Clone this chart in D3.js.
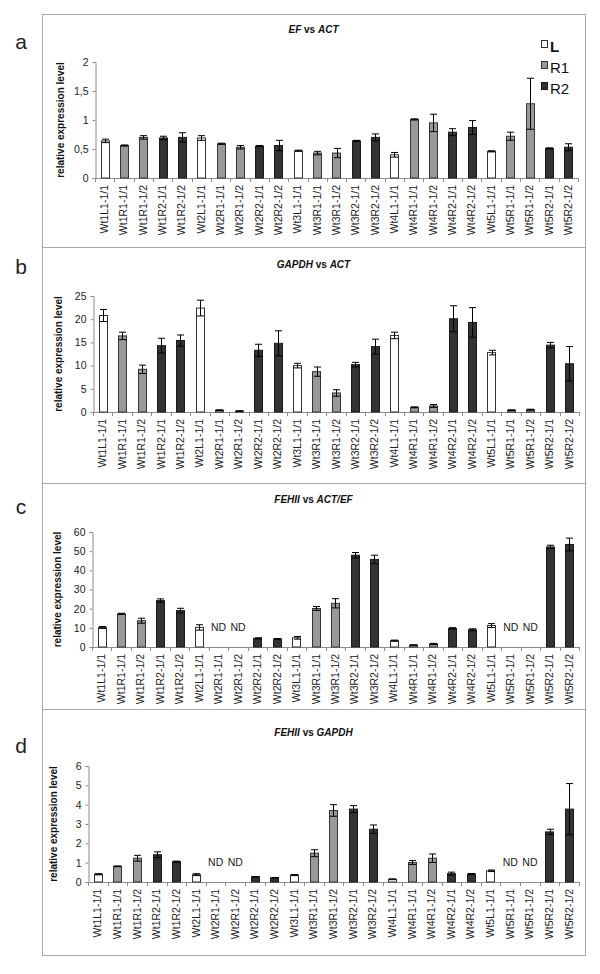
<!DOCTYPE html>
<html><head><meta charset="utf-8">
<script src="https://cdn.jsdelivr.net/npm/d3@7"></script>
<style>
body{margin:0;background:#fff}
svg text{font-family:"Liberation Sans",Arial,sans-serif}
</style>
</head><body>
<svg id="chart" width="600" height="974"></svg>
<script>
// ---------- data ----------
const categories = [
  "Wt1L1-1/1","Wt1R1-1/1","Wt1R1-1/2","Wt1R2-1/1","Wt1R2-1/2",
  "Wt2L1-1/1","Wt2R1-1/1","Wt2R1-1/2","Wt2R2-1/1","Wt2R2-1/2",
  "Wt3L1-1/1","Wt3R1-1/1","Wt3R1-1/2","Wt3R2-1/1","Wt3R2-1/2",
  "Wt4L1-1/1","Wt4R1-1/1","Wt4R1-1/2","Wt4R2-1/1","Wt4R2-1/2",
  "Wt5L1-1/1","Wt5R1-1/1","Wt5R1-1/2","Wt5R2-1/1","Wt5R2-1/2"
];
const tissue = [
  "L","R1","R1","R2","R2","L","R1","R1","R2","R2","L","R1","R1","R2","R2",
  "L","R1","R1","R2","R2","L","R1","R1","R2","R2"
];
const legendKeys = ["L","R1","R2"];

// a: EF vs ACT
const efActValues = [0.64,0.56,0.70,0.69,0.70, 0.69,0.59,0.53,0.55,0.56, 0.47,0.43,0.43,0.64,0.70, 0.40,1.01,0.95,0.79,0.87, 0.46,0.72,1.28,0.51,0.53];
const efActErrors = [0.03,0.01,0.03,0.03,0.08, 0.04,0.01,0.03,0.01,0.09, 0.01,0.03,0.08,0.01,0.06, 0.04,0.01,0.15,0.06,0.12, 0.01,0.07,0.44,0.01,0.06];
// b: GAPDH vs ACT
const gapdhActValues = [20.8,16.4,9.2,14.3,15.4, 22.4,0.4,0.2,13.3,14.8, 10.0,8.7,4.1,10.2,14.1, 16.5,1.0,1.3,20.1,19.3, 12.8,0.4,0.5,14.4,10.4];
const gapdhActErrors = [1.3,0.8,0.9,1.6,1.2, 1.7,0.05,0.05,1.3,2.7, 0.5,1.0,0.7,0.5,1.6, 0.7,0.1,0.3,2.8,3.2, 0.5,0.05,0.1,0.6,3.7];
// c: FEHII vs ACT/EF (null = ND)
const fehActEfValues = [10.2,17.3,13.7,24.2,19.0, 10.2,null,null,4.5,4.2, 4.8,20.1,22.8,47.9,45.7, 3.3,1.0,1.6,9.7,9.0, 11.2,null,null,52.2,53.5];
const fehActEfErrors = [0.5,0.3,1.3,0.9,1.2, 1.4,null,null,0.3,0.2, 0.7,1.0,2.4,1.4,2.2, 0.3,0.1,0.3,0.4,0.5, 1.0,null,null,0.9,3.3];
// d: FEHII vs GAPDH (null = ND)
const fehGapdhValues = [0.40,0.81,1.23,1.41,1.05, 0.38,null,null,0.27,0.22, 0.36,1.49,3.70,3.77,2.73, 0.14,1.01,1.23,0.43,0.41, 0.58,null,null,2.59,3.77];
const fehGapdhErrors = [0.03,0.02,0.15,0.15,0.03, 0.05,null,null,0.01,0.01, 0.03,0.18,0.30,0.18,0.22, 0.02,0.10,0.22,0.08,0.03, 0.04,null,null,0.14,1.32];

const ticksA = [0,0.5,1,1.5,2];
const ticksB = [0,5,10,15,20,25];
const ticksC = [0,10,20,30,40,50,60];
const ticksD = [0,1,2,3,4,5,6];
const tickLabelsA = ["0","0,5","1","1,5","2"];

const panelLetters = ["a","b","c","d"];
const titleParts = [
  [["EF",true]," vs ",["ACT",true]],
  [["GAPDH",true]," vs ",["ACT",true]],
  [["FEHII",true]," vs ",["ACT/EF",true]],
  [["FEHII",true]," vs ",["GAPDH",true]]
];
const yLabel = "relative expression level";
const ndLabel = "ND";

// ---------- layout ----------
const svg = d3.select("#chart");
const frame = {x0:42, x1:585, y0:14, y1:955};
const panels = [
  {top:14,  bottom:247, yTop:62,  yBot:178, xL:95, xR:578, titleY:33,  letterY:49,  values:efActValues,    errors:efActErrors,    ticks:ticksA, tickLabels:tickLabelsA, max:2},
  {top:247, bottom:483, yTop:296, yBot:412, xL:93, xR:579, titleY:268, letterY:274, values:gapdhActValues, errors:gapdhActErrors, ticks:ticksB, max:25},
  {top:483, bottom:709, yTop:532, yBot:647, xL:92, xR:579, titleY:503, letterY:514, values:fehActEfValues, errors:fehActEfErrors, ticks:ticksC, max:60},
  {top:709, bottom:955, yTop:766, yBot:882, xL:88, xR:579, titleY:736, letterY:753, values:fehGapdhValues, errors:fehGapdhErrors, ticks:ticksD, max:6}
];
const fillOf = {L:"#ffffff", R1:"#999999", R2:"#333333"};
const strokeOf = {L:"#333333", R1:"#333333", R2:"#1a1a1a"};
const axisColor = "#8c8c8c";

// frame
svg.append("rect").attr("x",frame.x0+0.5).attr("y",frame.y0+0.5)
  .attr("width",frame.x1-frame.x0).attr("height",frame.y1-frame.y0)
  .attr("fill","none").attr("stroke","#a8a8a8").attr("stroke-width",1);
panels.slice(1).forEach(p=>{
  svg.append("line").attr("x1",frame.x0).attr("x2",frame.x1)
    .attr("y1",p.top+0.5).attr("y2",p.top+0.5).attr("stroke","#a8a8a8");
});

panels.forEach((p,pi)=>{
  const g = svg.append("g");
  const x = d3.scaleBand().domain(categories).range([p.xL,p.xR]).paddingInner(0.58).paddingOuter(0.29);
  const y = d3.scaleLinear().domain([0,p.max]).range([p.yBot,p.yTop]);
  const step = (p.xR-p.xL)/categories.length;

  // panel letter
  g.append("text").attr("x",21).attr("y",p.letterY).attr("text-anchor","middle")
    .attr("font-size",21).attr("fill","#222").text(panelLetters[pi]);

  // title
  const t = g.append("text").attr("x",(frame.x0+frame.x1)/2).attr("y",p.titleY)
    .attr("text-anchor","middle").attr("font-size",10).attr("font-weight","bold").attr("fill","#111");
  titleParts[pi].forEach(part=>{
    if (Array.isArray(part)) t.append("tspan").attr("font-style","italic").text(part[0]);
    else t.append("tspan").attr("xml:space","preserve").text(part);
  });

  // y axis
  const yAxis = d3.axisLeft(y).tickValues(p.ticks).tickSize(3).tickPadding(4)
    .tickFormat((d,i)=> p.tickLabels ? p.tickLabels[i] : String(d));
  const ya = g.append("g").attr("transform",`translate(${p.xL+0.5},0)`).call(yAxis);
  ya.select(".domain").attr("stroke",axisColor);
  ya.selectAll(".tick line").attr("stroke",axisColor);
  ya.selectAll(".tick text").attr("font-size",10.5).attr("fill","#222")
    .attr("font-family","'Liberation Sans',Arial,sans-serif");

  // y label
  g.append("text").attr("transform",`translate(${p.xL-31},${(p.yTop+p.yBot)/2}) rotate(-90)`)
    .attr("text-anchor","middle").attr("font-size",10).attr("font-weight","bold").attr("fill","#111")
    .text(yLabel);

  // x axis line and ticks between categories
  g.append("line").attr("x1",p.xL).attr("x2",p.xR).attr("y1",p.yBot+0.5).attr("y2",p.yBot+0.5).attr("stroke",axisColor);
  d3.range(categories.length+1).forEach(i=>{
    const xx = Math.round(p.xL + i*step)+0.5;
    g.append("line").attr("x1",xx).attr("x2",xx).attr("y1",p.yBot).attr("y2",p.yBot+4).attr("stroke",axisColor);
  });

  // x labels
  categories.forEach(c=>{
    const cx = x(c)+x.bandwidth()/2;
    g.append("text").attr("transform",`translate(${cx+3.5},${p.yBot+7}) rotate(-90)`)
      .attr("text-anchor","end").attr("font-size",10.5).attr("fill","#222").text(c);
  });

  // bars
  categories.forEach((c,i)=>{
    const v = p.values[i];
    if (v === null) {
      g.append("text").attr("x",x(c)+x.bandwidth()/2).attr("y",p.yBot-16)
        .attr("text-anchor","middle").attr("font-size",10.5).attr("fill","#222").text(ndLabel);
      return;
    }
    const tt = tissue[i];
    g.append("rect").attr("x",Math.round(x(c))+0.5).attr("y",y(v))
      .attr("width",Math.round(x.bandwidth())).attr("height",Math.max(0,y(0)-y(v)))
      .attr("fill",fillOf[tt]).attr("stroke",strokeOf[tt]).attr("stroke-width",1);
    const e = p.errors[i];
    const cx = Math.round(x(c)+x.bandwidth()/2)+0.5;
    const yHi = y(v+e), yLo = y(Math.max(0,v-e));
    g.append("line").attr("x1",cx).attr("x2",cx).attr("y1",yHi).attr("y2",yLo).attr("stroke","#000");
    [yHi,yLo].forEach(yy=>{
      g.append("line").attr("x1",cx-3.5).attr("x2",cx+3.5).attr("y1",yy).attr("y2",yy).attr("stroke","#000");
    });
  });
});

// legend (panel a)
const legendY = [40,61,82];
legendKeys.forEach((k,i)=>{
  const lg = svg.append("g");
  lg.append("rect").attr("x",541.5).attr("y",legendY[i]+0.5).attr("width",6).attr("height",7)
    .attr("fill",fillOf[k]).attr("stroke",strokeOf[k]);
  lg.append("text").attr("x",550).attr("y",legendY[i]+12).attr("font-size",15)
    .attr("font-weight", k==="L" ? "bold" : "normal").attr("fill","#111").text(k);
});
</script>
</body></html>
